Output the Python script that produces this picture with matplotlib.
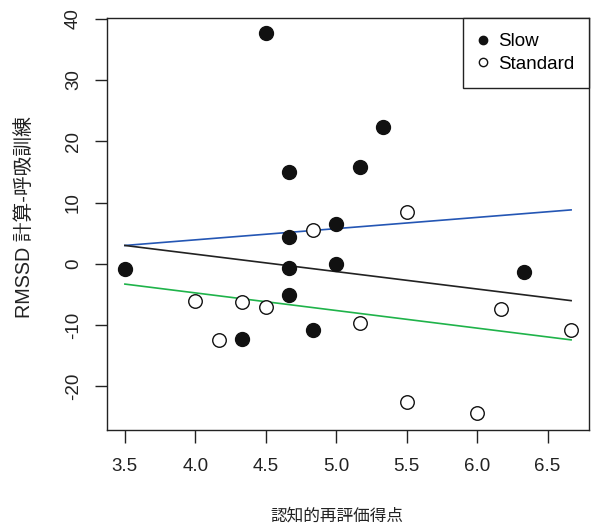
import matplotlib
matplotlib.use("Agg")
import matplotlib.pyplot as plt
from matplotlib.lines import Line2D

plt.rcParams['font.family'] = ['Liberation Sans', 'Noto Sans CJK JP', 'DejaVu Sans']

# Slow group (filled)
slow_x = [3.5, 4.5, 4.333, 4.667, 4.667, 4.667, 4.667, 4.833, 5.0, 5.0, 5.167, 5.333, 6.333]
slow_y = [-0.8, 37.6, -12.2, 15.0, 4.3, -0.7, -5.0, -10.8, 6.5, -0.1, 15.8, 22.4, -1.4]

# Standard group (open)
std_x = [4.0, 4.167, 4.333, 4.5, 4.833, 5.167, 5.5, 5.5, 6.0, 6.167, 6.667]
std_y = [-6.1, -12.4, -6.3, -7.0, 5.5, -9.6, 8.4, -22.6, -24.4, -7.3, -10.8]

# fitted lines (ends)
line_x = [3.5, 6.667]
blue_y = [3.0, 8.8]
black_y = [3.0, -6.0]
green_y = [-3.3, -12.4]

xticks = [3.5, 4.0, 4.5, 5.0, 5.5, 6.0, 6.5]
yticks = [-20, -10, 0, 10, 20, 30, 40]

fig = plt.figure(figsize=(5.92, 5.26), dpi=100)
ax = fig.add_axes([107/592, 1-430/526, 482/592, 412/526])

ax.plot(line_x, blue_y, color='#2456b4', lw=1.2)
ax.plot(line_x, black_y, color='#222222', lw=1.2)
ax.plot(line_x, green_y, color='#1fb34a', lw=1.2)

ax.scatter(slow_x, slow_y, s=100, facecolor='#111111', edgecolor='#111111', lw=1, zorder=3)
ax.scatter(std_x, std_y, s=95, facecolor='white', edgecolor='#111111', lw=1, zorder=3)

ax.set_xlim(3.373, 6.794)
ax.set_ylim(-27.1, 40.1)
ax.set_xticks(xticks)
ax.set_yticks(yticks)
ax.set_xticklabels([f"{t:.1f}" for t in xticks])
ax.set_yticklabels([str(t) for t in yticks], rotation=90, va='center')
ax.tick_params(axis='both', length=9, width=1, labelsize=13.5, colors='#222222')
ax.tick_params(axis='x', pad=11)
ax.tick_params(axis='y', pad=9)
for sp in ax.spines.values():
    sp.set_color('#222222')
    sp.set_linewidth(1)

handles = [
    Line2D([], [], marker='o', ls='none', markersize=6, markerfacecolor='#111111', markeredgecolor='#111111'),
    Line2D([], [], marker='o', ls='none', markersize=6, markerfacecolor='white', markeredgecolor='#111111'),
]
leg = ax.legend(handles, ['Slow', 'Standard'], loc='upper right', borderaxespad=0,
                fancybox=False, edgecolor='#222222', framealpha=1, fontsize=13.5,
                handletextpad=0.55, handlelength=0.5, borderpad=0.8, labelspacing=0.3)
leg.get_frame().set_linewidth(1)

fig.text(25/592, 1-217/526, 'RMSSD 計算-呼吸訓練', rotation=90, ha='center', va='center',
         fontsize=14.2, color='#222222')
fig.text(337/592, 1-516/526, '認知的再評価得点', ha='center', va='center',
         fontsize=12, color='#222222')

fig.savefig('out.png', dpi=100)
